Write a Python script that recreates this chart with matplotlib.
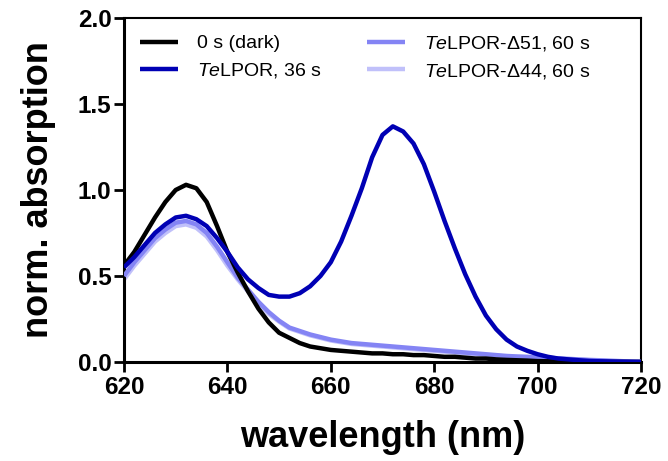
import matplotlib
matplotlib.use("Agg")
import matplotlib.pyplot as plt

# wavelength grid (nm)
wl = list(range(620, 722, 2))

# 0 s (dark)
dark = [0.56, 0.64, 0.74, 0.84, 0.93, 1.00, 1.03, 1.01, 0.93, 0.79,
        0.64, 0.52, 0.41, 0.31, 0.23, 0.17, 0.14, 0.11, 0.09, 0.08,
        0.07, 0.065, 0.06, 0.055, 0.05, 0.05, 0.045, 0.045, 0.04, 0.04,
        0.035, 0.03, 0.03, 0.025, 0.02, 0.02, 0.015, 0.012, 0.01, 0.008,
        0.005, 0.004, 0.003, 0.002, 0.002, 0.001, 0.001, 0.0, 0.0, 0.0, 0.0]

# TeLPOR, 36 s
telpor = [0.55, 0.61, 0.68, 0.75, 0.80, 0.84, 0.85, 0.83, 0.79, 0.72,
          0.64, 0.55, 0.48, 0.43, 0.39, 0.38, 0.38, 0.40, 0.44, 0.50,
          0.58, 0.70, 0.85, 1.01, 1.19, 1.32, 1.37, 1.34, 1.27, 1.15,
          0.99, 0.82, 0.66, 0.51, 0.38, 0.27, 0.19, 0.13, 0.09, 0.065,
          0.045, 0.03, 0.02, 0.015, 0.01, 0.006, 0.004, 0.003, 0.002, 0.001, 0.0]

# TeLPOR-d51, 60 s
d51 = [0.50, 0.58, 0.65, 0.72, 0.77, 0.81, 0.82, 0.80, 0.75, 0.67,
       0.58, 0.49, 0.42, 0.35, 0.29, 0.24, 0.20, 0.18, 0.16, 0.145,
       0.13, 0.12, 0.11, 0.105, 0.10, 0.095, 0.09, 0.085, 0.08, 0.075,
       0.07, 0.065, 0.06, 0.055, 0.05, 0.045, 0.04, 0.035, 0.032, 0.03,
       0.027, 0.024, 0.021, 0.018, 0.015, 0.012, 0.01, 0.007, 0.005, 0.003, 0.002]

# TeLPOR-d44, 60 s
d44 = [0.48, 0.56, 0.63, 0.70, 0.75, 0.79, 0.80, 0.78, 0.73, 0.65,
       0.56, 0.48, 0.41, 0.34, 0.28, 0.235, 0.195, 0.175, 0.155, 0.14,
       0.125, 0.115, 0.105, 0.10, 0.095, 0.09, 0.085, 0.08, 0.075, 0.07,
       0.065, 0.06, 0.055, 0.05, 0.045, 0.04, 0.036, 0.032, 0.029, 0.027,
       0.024, 0.021, 0.018, 0.015, 0.013, 0.01, 0.008, 0.006, 0.004, 0.002, 0.001]

plt.rcParams["font.family"] = "Liberation Sans"
plt.rcParams["mathtext.fontset"] = "custom"
plt.rcParams["mathtext.rm"] = "Liberation Sans"
plt.rcParams["mathtext.it"] = "Liberation Sans:italic"

fig = plt.figure(figsize=(6.68, 4.61), dpi=100)
ax = fig.add_axes([0.1856, 0.2148, 0.7740, 0.7462])

lw = 3.2
kw = dict(lw=lw, solid_joinstyle="round", solid_capstyle="butt")
ax.plot(wl, dark, color="black", zorder=4, label="0 s (dark)", **kw)
ax.plot(wl, telpor, color="#0000b4", zorder=5, label=r"$\it{Te}$LPOR, 36 s", **kw)
ax.plot(wl, d51, color="#8484f4", zorder=3, label=r"$\it{Te}$LPOR-$\Delta$51, 60 s", **kw)
ax.plot(wl, d44, color="#c0c0fa", zorder=2, label=r"$\it{Te}$LPOR-$\Delta$44, 60 s", **kw)

ax.set_xlim(620, 720)
ax.set_ylim(0, 2.0)
ax.set_xticks([620, 640, 660, 680, 700, 720])
ax.set_yticks([0.0, 0.5, 1.0, 1.5, 2.0])
ax.set_yticklabels(["0.0", "0.5", "1.0", "1.5", "2.0"])

for s in ["left", "bottom"]:
    ax.spines[s].set_linewidth(2.2)
for s in ["top", "right"]:
    ax.spines[s].set_linewidth(1.5)
ax.tick_params(direction="out", length=7, width=2, labelsize=17.5, pad=2)
ax.tick_params(axis="x", pad=3)
for t in ax.get_xticklabels() + ax.get_yticklabels():
    t.set_fontweight("bold")

ax.set_xlabel("wavelength (nm)", fontsize=26, fontweight="bold", labelpad=15)
ax.set_ylabel("norm. absorption", fontsize=26, fontweight="bold", labelpad=16)

ax.legend(loc="upper left", ncol=2, frameon=False, fontsize=14,
          handlelength=1.95, handletextpad=1.0, columnspacing=2.3,
          labelspacing=0.45, borderaxespad=0.42, bbox_to_anchor=(0.0, 1.0))

fig.savefig("out.png", dpi=100)
